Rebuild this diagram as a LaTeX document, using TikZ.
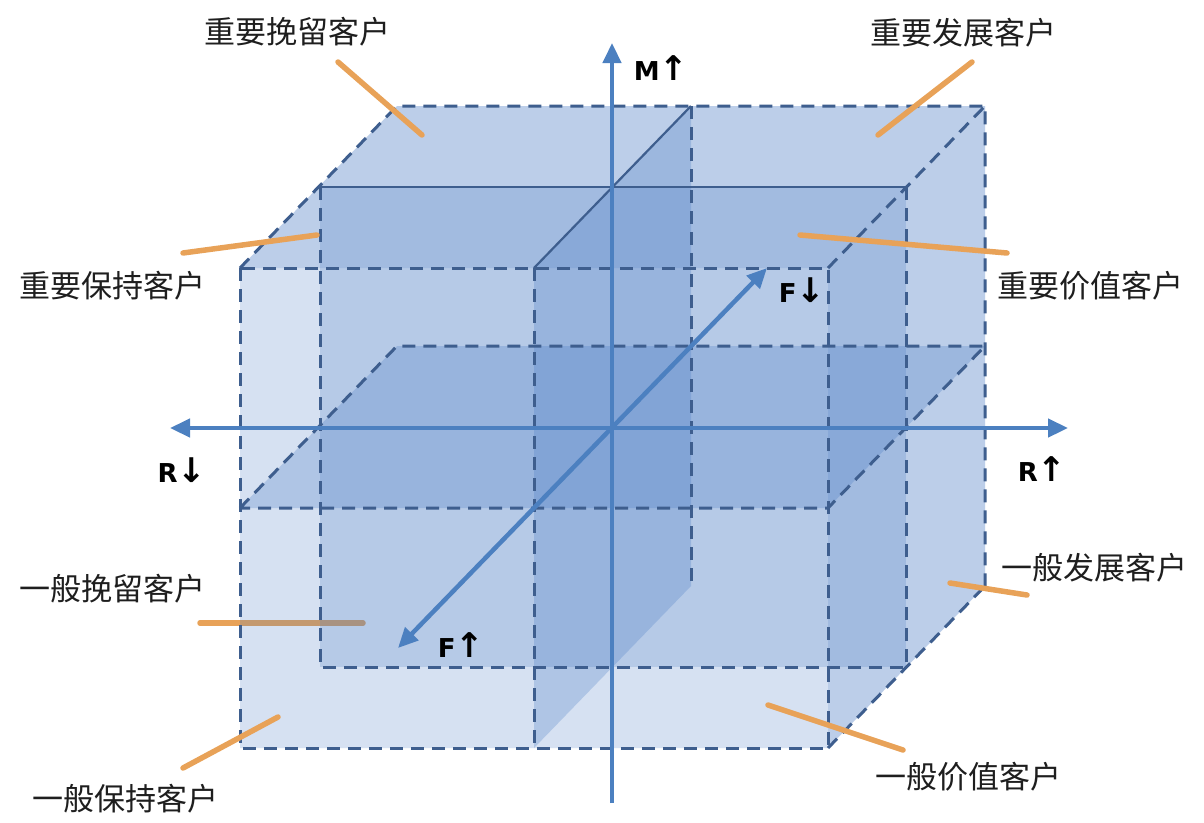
\documentclass[tikz,border=0pt]{standalone}
\usepackage{fontspec}
\newfontfamily\cjk{Noto Sans CJK SC}
\newfontfamily\axf{DejaVu Sans}
\usetikzlibrary{arrows.meta}
\definecolor{axisblue}{RGB}{76,128,192}
\definecolor{edgeblue}{RGB}{62,94,142}
\definecolor{fillblue}{RGB}{72,122,196}
\definecolor{leader}{RGB}{232,162,88}
\definecolor{labtext}{RGB}{30,30,30}
\newcommand{\bigarr}[1]{{\fontsize{34}{34}\selectfont #1}}
\begin{document}
\begin{tikzpicture}[x=1pt,y=-1pt,
  cjklab/.style={font=\cjk\fontsize{31}{31}\selectfont, text=labtext, inner sep=0pt},
  axlab/.style={font=\axf\bfseries\fontsize{26}{26}\selectfont, text=black, inner sep=0pt},
  edge/.style={draw=edgeblue, line width=3pt, dash pattern=on 13pt off 8pt},
  solidedge/.style={draw=edgeblue, line width=2.2pt},
  leaderline/.style={draw=leader, line width=5.5pt, line cap=round},
  axisline/.style={draw=axisblue, line width=4.5pt},
  tip/.tip={Triangle[length=20pt,width=18pt]},
  shadeop/.style={fill=fillblue, fill opacity=#1},
]
\useasboundingbox (0,0) rectangle (1204,822);
\fill[white] (0,0) rectangle (1204,822);

% corner coordinates
\coordinate (FTL) at (240,268);
\coordinate (FTR) at (828,268);
\coordinate (FBR) at (828,748);
\coordinate (FBL) at (240,748);
\coordinate (BTL) at (397,106);
\coordinate (BTR) at (985,106);
\coordinate (BBR) at (985,586);
\coordinate (MTL) at (320,187);
\coordinate (MTR) at (906,187);
\coordinate (MBR) at (906,667);
\coordinate (MBL) at (320,667);
\coordinate (HFL) at (240,508);
\coordinate (HFR) at (828,508);
\coordinate (HBL) at (397,346);
\coordinate (HBR) at (985,346);
\coordinate (VFT) at (534,268);
\coordinate (VFB) at (534,748);
\coordinate (VBT) at (691,106);
\coordinate (VBB) at (691,586);

% leader behind the cube
\coordinate (a5) at (200,623);
\coordinate (b5) at (363,623);
\draw[leaderline] (a5) -- (b5);

% translucent fills
\fill[shadeop=0.22] (FTL) -- (BTL) -- (BTR) -- (BBR) -- (FBR) -- (FBL) -- cycle;
\fill[shadeop=0.18] (FTL) -- (BTL) -- (BTR) -- (BBR) -- (FBR) -- (FTR) -- cycle;
\fill[shadeop=0.22] (MTL) rectangle (MBR);
\fill[shadeop=0.27] (HFL) -- (HBL) -- (HBR) -- (HFR) -- cycle;
\fill[shadeop=0.27] (VFT) -- (VBT) -- (VBB) -- (VFB) -- cycle;

% edges
\draw[edge] (FTL) rectangle (FBR);
\draw[edge] (FTL) -- (BTL) -- (BTR) -- (BBR);
\draw[edge] (FTR) -- (BTR);
\draw[edge] (FBR) -- (BBR);
\draw[solidedge] (MTL) -- (MTR);
\draw[edge] (MTR) -- (MBR) -- (MBL) -- (MTL);
\draw[edge] (HFL) -- (HBL) -- (HBR) -- (HFR) -- cycle;
\draw[edge] (VFT) -- (VFB);
\draw[edge] (VBT) -- (VBB);
\draw[solidedge] (VFT) -- (VBT);

% axes
\coordinate (Mtop) at (612,43);
\coordinate (Mbot) at (612,803);
\coordinate (Rleft) at (170,428);
\coordinate (Rright) at (1068,428);
\coordinate (Fdown) at (398,648);
\coordinate (Fup) at (767,268);
\draw[axisline, -tip] (Mbot) -- (Mtop);
\draw[axisline, tip-tip] (Rleft) -- (Rright);
\draw[axisline, tip-tip] (Fdown) -- (Fup);

% axis labels
\node[axlab] (mup) at (661,68) {M\bigarr{↑}};
\node[axlab] (rdn) at (182,470) {R\bigarr{↓}};
\node[axlab] (rup) at (1042,469) {R\bigarr{↑}};
\node[axlab] (fdn) at (802,290) {F\bigarr{↓}};
\node[axlab] (fup) at (461,645) {F\bigarr{↑}};

% labels
\node[cjklab] (l1) at (297,32) {重要挽留客户};
\node[cjklab] (l2) at (963,33) {重要发展客户};
\node[cjklab] (l3) at (112,286) {重要保持客户};
\node[cjklab] (l4) at (1090,286) {重要价值客户};
\node[cjklab] (l5) at (112,589) {一般挽留客户};
\node[cjklab] (l6) at (1094,568) {一般发展客户};
\node[cjklab] (l7) at (968,777) {一般价值客户};
\node[cjklab] (l8) at (125,799) {一般保持客户};

% leader lines
\coordinate (a1) at (338,62);   \coordinate (b1) at (422,135);
\coordinate (a2) at (972,62);   \coordinate (b2) at (878,135);
\coordinate (a3) at (183,253);  \coordinate (b3) at (317,235);
\coordinate (a4) at (1007,253); \coordinate (b4) at (800,235);
\coordinate (a6) at (1027,595); \coordinate (b6) at (950,583);
\coordinate (a7) at (903,750);  \coordinate (b7) at (768,705);
\coordinate (a8) at (183,768);  \coordinate (b8) at (278,717);
\draw[leaderline] (a1) -- (b1);
\draw[leaderline] (a2) -- (b2);
\draw[leaderline] (a3) -- (b3);
\draw[leaderline] (a4) -- (b4);
\draw[leaderline] (a6) -- (b6);
\draw[leaderline] (a7) -- (b7);
\draw[leaderline] (a8) -- (b8);
\end{tikzpicture}
\end{document}
